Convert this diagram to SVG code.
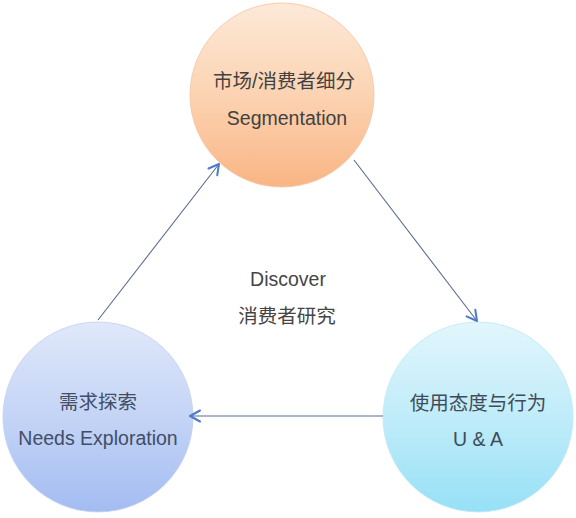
<svg xmlns="http://www.w3.org/2000/svg" width="576" height="518" viewBox="0 0 576 518">
<defs>
<linearGradient id="gTop" x1="0" y1="0" x2="0" y2="1">
<stop offset="0" stop-color="#fde9d8"/>
<stop offset="0.5" stop-color="#fcd3b2"/>
<stop offset="1" stop-color="#f9b584"/>
</linearGradient>
<linearGradient id="gLeft" x1="0" y1="0" x2="0" y2="1">
<stop offset="0" stop-color="#e0e8fa"/>
<stop offset="0.5" stop-color="#c4d4f6"/>
<stop offset="1" stop-color="#a3bcf1"/>
</linearGradient>
<linearGradient id="gRight" x1="0" y1="0" x2="0" y2="1">
<stop offset="0" stop-color="#e2f6fc"/>
<stop offset="0.5" stop-color="#c0ecf9"/>
<stop offset="1" stop-color="#97e0f6"/>
</linearGradient>
<marker id="arr" markerWidth="16" markerHeight="16" refX="12" refY="8" orient="auto" markerUnits="userSpaceOnUse">
<path d="M2,2.5 L12,8 L2,13.5" fill="none" stroke="#4a7ccb" stroke-width="2" stroke-linecap="round" stroke-linejoin="round"/>
</marker>
</defs>
<style>
.t{font-family:"Liberation Sans","Noto Sans CJK SC",Arial,sans-serif;font-size:19.5px;text-anchor:middle}
.conn{stroke:#5b6d8c;stroke-width:1.1;fill:none}
</style>
<rect width="576" height="518" fill="#ffffff"/>
<g id="segmentation">
<circle cx="282" cy="95" r="92" fill="url(#gTop)" stroke="#f5c4a2" stroke-width="0.8"/>
<text class="t" x="284" y="88" fill="#424242">市场/消费者细分</text>
<text class="t" x="287" y="125" fill="#424242">Segmentation</text>
</g>
<g id="needs">
<circle cx="98" cy="417" r="95" fill="url(#gLeft)" stroke="#c0cff1" stroke-width="0.8"/>
<text class="t" x="98" y="409" fill="#424d66">需求探索</text>
<text class="t" x="98" y="445" fill="#424d66">Needs Exploration</text>
</g>
<g id="ua">
<circle cx="478" cy="417" r="95" fill="url(#gRight)" stroke="#bde8f5" stroke-width="0.8"/>
<text class="t" x="478" y="410" fill="#3f4c5a">使用态度与行为</text>
<text class="t" x="478" y="446" fill="#3f4c5a">U &amp; A</text>
</g>
<g id="center">
<text class="t" x="288" y="286" fill="#454545">Discover</text>
<text class="t" x="287" y="323" fill="#454545">消费者研究</text>
</g>
<g id="connectors">
<line class="conn" x1="98" y1="320" x2="219" y2="164" marker-end="url(#arr)"/>
<line class="conn" x1="354" y1="160" x2="477" y2="321" marker-end="url(#arr)"/>
<line class="conn" x1="383" y1="416" x2="190" y2="416" marker-end="url(#arr)"/>
</g>
</svg>
